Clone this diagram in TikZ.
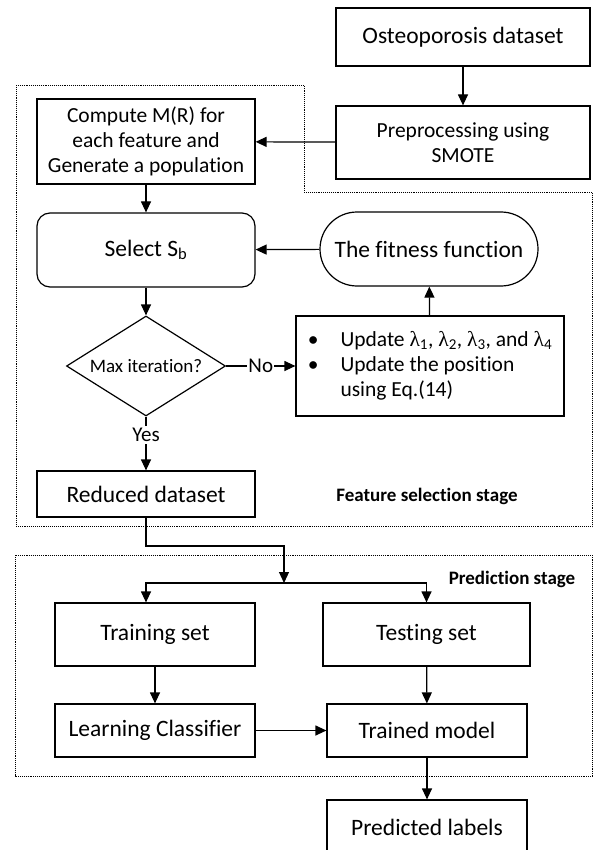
\documentclass[tikz,border=0pt]{standalone}
\usepackage{fontspec}
\setmainfont{Carlito}[Ligatures=NoCommon]
\newfontfamily\lambdafont{Liberation Serif}
\usetikzlibrary{graphs,shapes.geometric,arrows.meta}

\begin{document}
\begin{tikzpicture}[x=1pt, y=-1pt, line width=1.2pt,
		>={Triangle[length=11pt,width=10pt]},
		procbox/.style={rectangle, draw, align=center, inner sep=0pt, font=\fontsize{23.5}{25}\selectfont},
		smalltext/.style={font=\fontsize{21.5}{25}\selectfont},
		stagebox/.style={draw, densely dotted, line width=0.9pt},
		stagelabel/.style={font=\fontsize{19}{22}\selectfont\bfseries}]
		\useasboundingbox (0,0) rectangle (593,850);

		% feature selection stage
		\draw[stagebox] (16,85) -- (304,85) -- (304,192) -- (592,192) -- (592,526) -- (16,526) -- cycle;
		\node (osteo) at (463,37) [procbox, minimum width=254pt, minimum height=58pt] {Osteoporosis dataset};
		\node (prep) at (463,142.5) [procbox, smalltext, minimum width=254pt, minimum height=73pt, fill=white] {Preprocessing using\\SMOTE};
		\node (compute) at (146,141.5) [procbox, smalltext, minimum width=218pt, minimum height=85pt] {Compute M(R) for\\each feature and\\Generate a population};
		\node (select) at (146,250) [procbox, rounded corners=13pt, minimum width=218pt, minimum height=74pt] {Select S\textsubscript{b}};
		\node (fitness) at (429,249) [procbox, rounded corners=37pt, minimum width=218pt, minimum height=74pt] {The fitness function};
		\node (maxit) at (146,366) [diamond, draw, aspect=1.59, inner sep=0pt, minimum width=159pt, minimum height=100pt, font=\fontsize{19}{22}\selectfont] {Max iteration?};
		\node (update) at (430,366) [procbox, smalltext, minimum width=268pt, minimum height=100pt] {%
			\begin{tabular}{@{}l@{\hspace{22pt}}l@{}}
				\textbullet & Update {\lambdafont λ}\textsubscript{1}, {\lambdafont λ}\textsubscript{2}, {\lambdafont λ}\textsubscript{3}, and {\lambdafont λ}\textsubscript{4}\\
				\textbullet & Update the position\\
				& using Eq.(14)
			\end{tabular}};
		\node (yes) at (146,435) [font=\fontsize{21}{24}\selectfont, inner sep=2pt] {Yes};
		\node (reduced) at (146,494) [procbox, minimum width=218pt, minimum height=46pt] {Reduced dataset};
		\node (fslabel) at (427,496) [stagelabel] {Feature selection stage};

		% prediction stage
		\draw[stagebox] (15,555) rectangle (592,776);
		\node (pslabel) at (512,579) [stagelabel] {Prediction stage};
		\node (training) at (155,634.5) [procbox, minimum width=200pt, minimum height=63pt] {Training set};
		\node (testing) at (426.5,634.5) [procbox, minimum width=207pt, minimum height=63pt] {Testing set};
		\node (learn) at (155,730.5) [procbox, minimum width=200pt, minimum height=53pt] {Learning Classifier};
		\node (trained) at (427,730.5) [procbox, minimum width=200pt, minimum height=53pt] {Trained model};
		\node (pred) at (427,827) [procbox, minimum width=200pt, minimum height=54pt] {Predicted labels};

		\coordinate (bend) at (284,546);
		\coordinate (split) at (284,583);

		\graph {
			(osteo) -> (prep);
			(prep) -> (compute);
			(compute) -> (select);
			(fitness) -> (select);
			(select) -> (maxit);
			(update) -> (fitness);
			(training) -> (learn);
			(testing) -> (trained);
			(learn) -> (trained);
			(trained) -> (pred);
		};

		\draw[->] (maxit) -- node[fill=white, inner sep=1pt, font=\fontsize{21}{24}\selectfont] {No} (update);
		\draw (maxit) -- (yes);
		\draw[->] (yes) -- (reduced);
		\draw[->] (reduced) |- (bend) -- (split);
		\draw[->] (split) -| (reduced |- training.north);
		\draw[->] (split) -| (testing.north);
	\end{tikzpicture}
\end{document}
